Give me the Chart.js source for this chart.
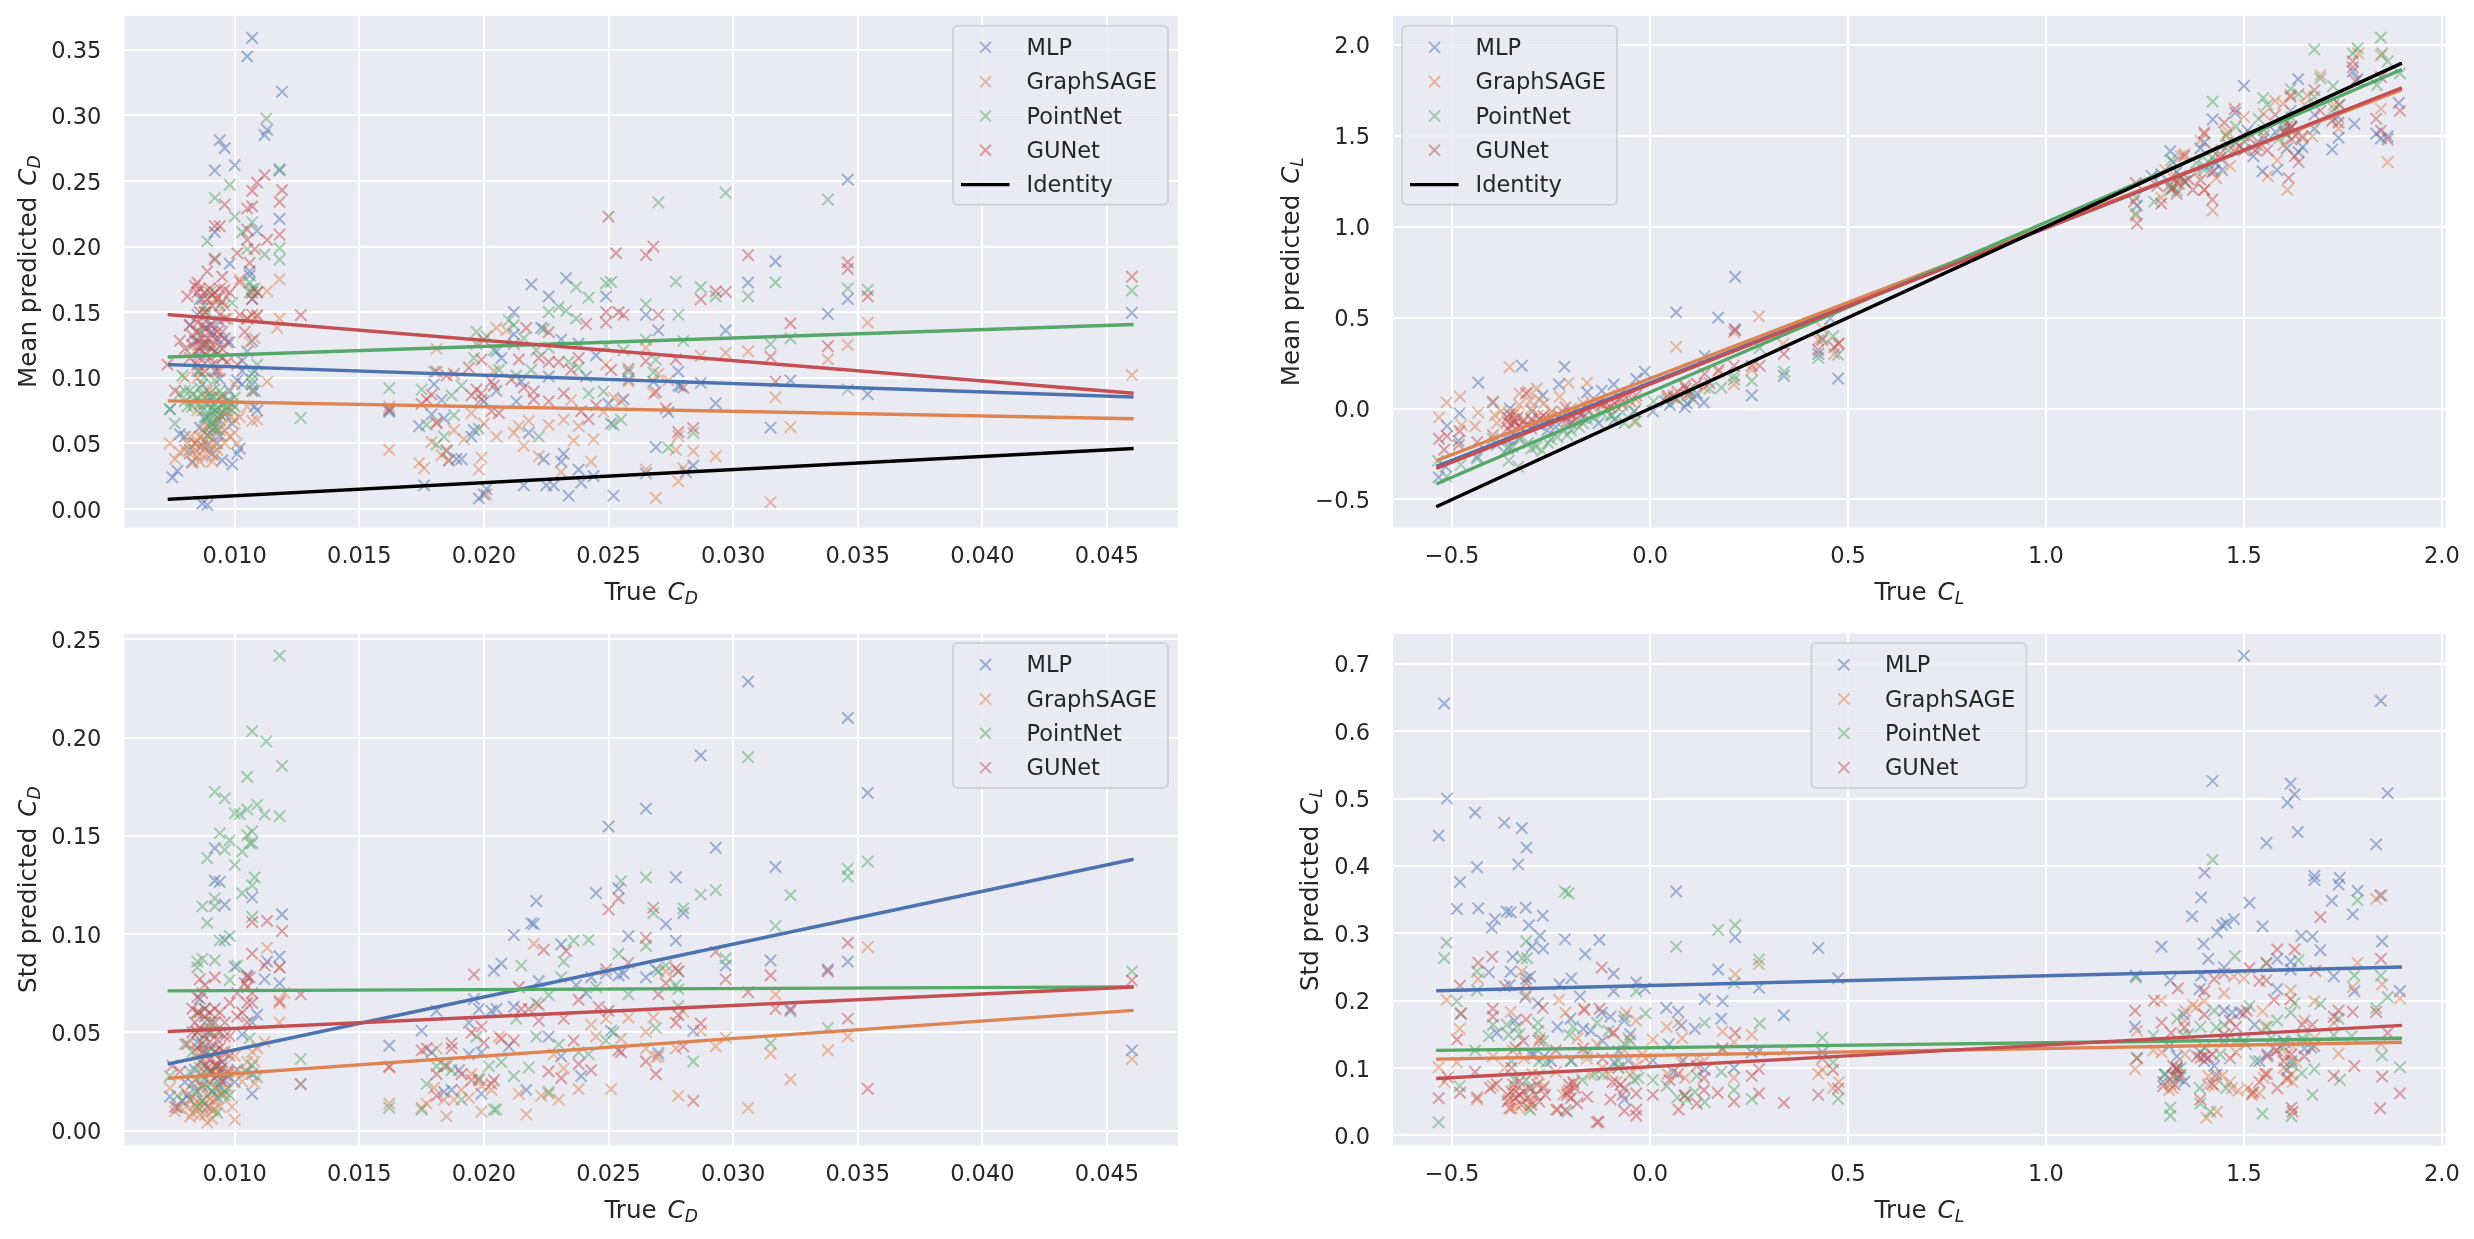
<!DOCTYPE html>
<html>
<head>
<meta charset="utf-8">
<title>Predicted vs true coefficients</title>
<script src="https://cdn.jsdelivr.net/npm/chart.js@4/dist/chart.umd.js"></script>
<style>
  body { margin: 0; background: #fff; }
  canvas { position: absolute; }
</style>
</head>
<body>
<canvas id="meanCd"></canvas>
<canvas id="meanCl"></canvas>
<canvas id="stdCd"></canvas>
<canvas id="stdCl"></canvas>
<script>
const models = ["MLP", "GraphSAGE", "PointNet", "GUNet"];

const xTicksCd = [0.010, 0.015, 0.020, 0.025, 0.030, 0.035, 0.040, 0.045];
const xTicksCl = [-0.5, 0.0, 0.5, 1.0, 1.5, 2.0];
const yTicksMeanCd = [0.00, 0.05, 0.10, 0.15, 0.20, 0.25, 0.30, 0.35];
const yTicksMeanCl = [-0.5, 0.0, 0.5, 1.0, 1.5, 2.0];
const yTicksStdCd = [0.00, 0.05, 0.10, 0.15, 0.20, 0.25];
const yTicksStdCl = [0.0, 0.1, 0.2, 0.3, 0.4, 0.5, 0.6, 0.7];

// regression line ends, [x, y]
const cdEnds = [0.00738, 0.0460];
const clEnds = [-0.536, 1.895];
const fitMeanCd = [[0.110, 0.0853], [0.0823, 0.0687], [0.1158, 0.1405], [0.148, 0.0883]];
const fitMeanCl = [[-0.315, 1.755], [-0.283, 1.75], [-0.411, 1.86], [-0.326, 1.76]];
const fitStdCd = [[0.034, 0.1379], [0.0267, 0.0611], [0.0711, 0.0731], [0.0504, 0.073]];
const fitStdCl = [[0.2146, 0.2497], [0.113, 0.138], [0.126, 0.144], [0.0844, 0.163]];

const mlpMeanCd = [[.0107,.359],[.0105,.345],[.0119,.318],[.0112,.285],[.0113,.289],[.0094,.281],[.0096,.275],[.01,.262],[.0092,.258],[.0118,.258],[.0118,.221],[.0109,.212],[.0092,.211],[.0098,.187],[.0106,.181],[.0106,.178],[.0107,.16],[.0086,.16],[.0085,.148],[.0082,.14],[.0088,.138],[.0091,.135],[.0093,.13],[.0098,.127],[.0107,.128],[.0103,.113],[.0092,.105],[.0094,.099],[.0101,.098],[.0103,.095],[.0107,.095],[.0108,.105],[.0108,.09],[.0108,.078],[.0109,.075],[.0096,.072],[.0092,.062],[.009,.058],[.0094,.056],[.0078,.057],[.0087,.048],[.0102,.046],[.0101,.042],[.0099,.034],[.0095,.037],[.0083,.036],[.0077,.029],[.0075,.024],[.0087,.004],[.0089,.003],[.0074,.076],[.0089,.048],
[.0084,.128],[.0086,.118],[.0088,.125],[.009,.14],[.0092,.12],[.0094,.143],[.0096,.13],[.0098,.09],[.0085,.105],[.0087,.095],[.009,.085],[.0092,.075],[.0094,.068],[.0088,.07],[.0086,.062],[.0084,.05],[.0082,.045],[.008,.055],[.0091,.042],[.0093,.05],[.0097,.082],[.0099,.065],[.0105,.12],[.0103,.105],
[.0162,.075],[.0162,.074],[.0174,.063],[.0176,.018],[.0179,.072],[.018,.095],[.0183,.083],[.0184,.069],[.0185,.044],[.0186,.037],[.0189,.038],[.0191,.038],[.0195,.055],[.0196,.06],[.0198,.008],[.02,.011],[.0201,.015],[.02,.082],[.0205,.09],[.0207,.115],[.0205,.12],[.0212,.15],[.0212,.133],[.0213,.082],[.0219,.171],[.0216,.018],[.0218,.058],[.0223,.138],[.0224,.038],[.0225,.018],[.0228,.018],[.0226,.162],[.0226,.101],[.0215,.097],[.0233,.176],[.0231,.129],[.0232,.042],[.0231,.036],[.0234,.01],[.0238,.126],[.0238,.03],[.0239,.02],[.0241,.101],[.0245,.117],[.0244,.025],[.0249,.162],[.025,.08],[.0251,.065],[.0252,.01],
[.0256,.0835],[.0265,.148],[.027,.136],[.0268,.097],[.0258,.0986],[.0278,.1046],[.0278,.094],[.0279,.0935],[.0287,.096],[.0274,.0735],[.0269,.047],[.0284,.033],[.0281,.028],[.0265,.027],[.0293,.0805],[.0297,.136],[.0306,.1725],[.0317,.1887],[.0315,.062],[.0323,.098],[.0338,.1486],[.0346,.251],[.0346,.16],[.0354,.0874],[.046,.1495]];
const sageMeanCd = [[.0074,.05],[.0076,.038],[.0078,.043],[.008,.045],[.0081,.05],[.0082,.042],[.0083,.035],[.0084,.045],[.0085,.052],[.0086,.055],[.0086,.047],[.0087,.04],[.0088,.052],[.0088,.058],[.0089,.063],[.009,.043],[.0091,.036],[.0092,.05],[.0093,.068],[.0094,.072],[.0096,.06],[.0098,.055],[.01,.058],[.0101,.05],[.0102,.07],[.0105,.078],[.0107,.067],[.0109,.068],[.0113,.097],[.0107,.09],[.0094,.105],[.0085,.1],[.008,.1],[.0084,.12],[.0088,.15],[.0092,.16],[.0097,.145],[.0102,.175],[.0106,.127],[.0105,.145],[.0108,.13],[.0109,.148],[.0113,.166],[.0118,.175],[.0118,.145],[.0117,.138],[.0096,.155],[.0091,.125],[.0086,.105],[.0089,.09],[.0095,.085],[.01,.095],
[.0082,.055],[.0084,.05],[.0085,.04],[.0086,.036],[.0087,.06],[.0088,.046],[.0089,.05],[.009,.055],[.0091,.06],[.0092,.04],[.0093,.045],[.0094,.06],[.0095,.07],[.0096,.05],[.0097,.075],[.0098,.07],[.0099,.08],[.01,.068],[.0085,.075],[.0088,.085],[.0091,.09],[.0094,.085],
[.0162,.045],[.0162,.078],[.0174,.035],[.0176,.031],[.0179,.051],[.0181,.066],[.0183,.041],[.0185,.045],[.0186,.037],[.0188,.06],[.0192,.053],[.0195,.073],[.0198,.03],[.02,.065],[.0199,.039],[.0201,.011],[.0205,.055],[.0204,.105],[.0205,.138],[.0209,.136],[.0181,.122],[.0212,.058],[.0214,.063],[.0216,.048],[.0218,.067],[.0222,.04],[.0226,.064],[.0232,.068],[.0231,.028],[.0238,.063],[.0236,.052],[.0244,.053],[.0243,.036],[.0248,.074],[.0249,.11],[.0235,.083],[.0252,.085],[.0255,.082],
[.0265,.1227],[.0265,.03],[.0258,.097],[.0268,.088],[.027,.103],[.0274,.098],[.0269,.0084],[.0277,.045],[.0278,.0555],[.0278,.021],[.028,.031],[.0284,.044],[.0287,.1167],[.0293,.04],[.0297,.119],[.0306,.12],[.0315,.005],[.0317,.085],[.0323,.0624],[.0338,.114],[.0346,.125],[.0354,.142],[.046,.102]];
const pointMeanCd = [[.01127,.2975],[.0118,.259],[.0098,.247],[.0092,.237],[.01,.2228],[.0089,.204],[.0107,.2185],[.0103,.211],[.0105,.198],[.0112,.194],[.0118,.1987],[.0118,.19],[.0092,.191],[.0106,.1725],[.0107,.168],[.0109,.165],[.0099,.157],[.0088,.154],[.0109,.11],[.0107,.103],[.0107,.0985],[.0079,.1016],[.01265,.0693],[.0074,.076],[.0076,.065],
[.0078,.088],[.008,.082],[.0082,.09],[.0083,.078],[.0085,.085],[.0086,.092],[.0087,.075],[.0088,.068],[.0089,.08],[.009,.088],[.0091,.077],[.0092,.072],[.0093,.083],[.0094,.09],[.0095,.08],[.0096,.075],[.0098,.082],[.01,.078],[.009,.063],[.0089,.056],[.0092,.066],[.0088,.125],[.0086,.135],[.0095,.115],[.0107,.09],[.0092,.098],
[.008,.09],[.0081,.078],[.0083,.087],[.0084,.082],[.0086,.08],[.0087,.087],[.0088,.08],[.009,.072],[.0091,.085],[.0092,.08],[.0093,.076],[.0094,.072],[.0095,.087],[.0097,.078],[.0099,.075],[.01,.085],[.0089,.07],[.0091,.065],[.0093,.06],[.0088,.1],[.0086,.105],[.0092,.12],[.0089,.15],[.009,.165],[.0094,.155],[.0106,.165],[.0108,.168],
[.0162,.092],[.0175,.091],[.0177,.064],[.018,.1046],[.0181,.049],[.0184,.055],[.0187,.0865],[.0191,.094],[.0188,.0715],[.0197,.135],[.0196,.115],[.0197,.1257],[.0198,.061],[.0201,.1317],[.0204,.121],[.0206,.106],[.021,.1438],[.0212,.14],[.0213,.1016],[.0216,.13],[.0219,.106],[.0221,.121],[.0222,.055],[.0224,.137],[.0226,.15],[.0226,.1227],[.023,.154],[.0233,.151],[.0237,.145],[.0237,.169],[.0242,.161],[.0234,.112],[.0238,.1076],[.0242,.088],[.0248,.0895],[.0249,.172],[.0251,.173],[.0249,.124],[.0252,.064],
[.0256,.121],[.0258,.1046],[.0255,.068],[.0265,.156],[.0265,.129],[.0268,.104],[.0269,.1137],[.027,.2336],[.0274,.0467],[.0277,.1733],[.0278,.148],[.028,.128],[.0284,.058],[.0287,.169],[.0293,.162],[.0297,.241],[.0306,.162],[.0315,.1257],[.0317,.1727],[.0323,.13],[.0338,.2358],[.0346,.168],[.0346,.091],[.0354,.167],[.046,.1664]];
const gunetMeanCd = [[.0112,.2545],[.0109,.2487],[.0107,.2424],[.0105,.229],[.0107,.2306],[.0096,.232],[.0118,.234],[.0119,.243],[.0118,.209],[.0113,.205],[.0092,.2155],[.0094,.2155],[.0105,.205],[.0105,.213],[.0101,.195],[.0108,.198],[.0106,.1875],[.0092,.19],[.0095,.177],[.0102,.173],[.0089,.181],[.0085,.1725],[.0081,.162],
[.0085,.165],[.0087,.16],[.009,.168],[.0092,.165],[.0094,.168],[.0096,.167],[.0098,.165],[.0088,.15],[.0091,.155],[.0094,.148],[.0096,.145],[.0105,.145],[.0107,.148],[.0109,.147],[.0102,.148],[.0107,.165],[.0109,.165],[.0085,.135],[.0087,.13],[.0089,.125],[.0091,.132],[.0093,.128],[.0095,.122],[.0097,.127],[.0083,.125],[.0086,.122],[.0078,.128],[.008,.122],[.0082,.14],[.0082,.115],[.0085,.11],[.0088,.105],[.0091,.11],[.0093,.105],[.0097,.112],[.0101,.11],[.0073,.11],[.0076,.09],[.01265,.1477],
[.0084,.17],[.0086,.168],[.0088,.165],[.0089,.16],[.0091,.163],[.0093,.16],[.0095,.158],[.0086,.15],[.0085,.142],[.0087,.14],[.0089,.138],[.0091,.14],[.0093,.135],[.0095,.135],[.0083,.132],[.0085,.128],[.0087,.125],[.0089,.13],[.0091,.122],[.0093,.118],[.0095,.115],[.0086,.115],[.0088,.118],[.009,.115],[.0107,.16],[.0104,.135],
[.0162,.076],[.0175,.08],[.0177,.0835],[.0179,.087],[.0181,.1046],[.0185,.1016],[.0181,.0654],[.0188,.103],[.0194,.1076],[.0195,.0865],[.0197,.091],[.0199,.088],[.0199,.0835],[.02,.1287],[.0199,.1137],[.0203,.097],[.0204,.094],[.0206,.073],[.0203,.0745],[.0212,.1257],[.0214,.114],[.0211,.0986],[.0216,.0925],[.0217,.138],[.022,.0895],[.022,.0835],[.0222,.115],[.0226,.112],[.0226,.082],[.0226,.1348],[.023,.112],[.0232,.088],[.0235,.106],[.0238,.115],[.0239,.0745],[.0241,.1408],[.0242,.0684],[.0245,.079],[.0249,.15],[.0249,.142],[.0251,.106],[.025,.2228],[.0253,.195],[.0254,.15],
[.0265,.1935],[.0268,.2],[.0256,.148],[.027,.148],[.0258,.1067],[.0265,.1127],[.0269,.089],[.0273,.0766],[.0277,.114],[.028,.0925],[.0278,.0585],[.0284,.0615],[.0287,.1598],[.0293,.1658],[.0297,.1655],[.0306,.1935],[.0315,.1158],[.0317,.097],[.0323,.1414],[.0338,.124],[.0346,.188],[.0346,.183],[.0354,.162],[.046,.177]];

const mlpMeanCl = [[.215,.724],[.066,.528],[.172,.5],[.214,.437],[-.324,.235],[-.216,.23],[-.434,.143],[-.23,.133],[-.397,.033],[-.271,.072],[-.159,.089],[-.122,.098],[-.092,.133],[-.035,.163],[-.013,.202],[.138,.289],[.136,.033],[.118,.083],[.093,.028],[.088,.007],[.007,-.015],[.039,.039],[.257,.072],[.338,.18],[.425,.3],[.475,.165],[.455,.495],[-.481,-.026],[-.513,-.096],[-.484,-.178],[-.534,-.378],[-.354,0],[-.298,-.015],[-.238,-.102],[-.357,-.211],[-.437,-.265],[-.516,-.32],[-.387,-.2],[-.13,-.08],[-.09,-.06],[-.04,-.015],
[-.28,-.09],[-.26,-.12],[-.2,-.08],[-.17,-.05],[-.33,-.16],[-.36,-.17],[.05,.02],[.11,.05],
[1.5,1.774],[1.637,1.811],[1.421,1.589],[1.314,1.415],[1.891,1.68],[1.779,1.565],[1.723,1.424],[1.739,1.489],[1.834,1.511],[1.863,1.496],[1.846,1.485],[1.775,1.854],[1.547,1.304],[1.584,1.311],[1.524,1.387],[1.648,1.437],[1.638,1.409],[1.608,1.43],[1.478,1.626],[1.39,1.43],[1.4,1.463],[1.445,1.311],[1.425,1.307],[1.23,1.115],[1.267,1.278],[1.291,1.289],[1.321,1.354],[1.678,1.539],[1.678,1.615],[1.604,1.528],[1.618,1.637],[1.737,1.604],[1.787,1.811],[1.509,1.528],
[1.33,1.3],[1.35,1.25],[1.4,1.33],[1.43,1.35],[1.48,1.46],[1.55,1.48],[1.58,1.52],[1.62,1.55],[1.53,1.45]];
const sageMeanCl = [[.275,.507],[.066,.339],[-.355,.228],[-.33,.083],[-.308,.093],[-.286,.111],[-.48,.065],[-.514,.033],[-.533,-.048],[-.434,-.022],[-.397,.039],[-.392,-.037],[-.442,-.098],[-.476,-.091],[-.303,.039],[-.268,.028],[-.228,.065],[-.206,.141],[-.159,.141],[-.204,-.037],[-.169,.028],[-.387,-.08],[-.347,-.037],[-.318,-.059],[-.283,-.037],[-.258,-.059],[-.248,-.015],[-.04,-.07],[-.11,.028],[-.08,.072],[-.035,.05],[.044,.061],[.093,.072],[.138,.115],[.173,.202],[.212,.133],[.257,.213],[.336,.354],[.425,.376],[.435,.441],[.465,.3],[.475,.354],[.212,.42],[.059,.072],[-.377,-.015],
[-.34,-.02],[-.3,.0],[-.28,.05],[-.25,-.02],[-.33,.02],[-.2,.0],[-.15,.04],[-.12,.02],
[1.863,1.354],[1.61,1.202],[1.56,1.278],[1.421,1.089],[1.846,1.648],[1.693,1.833],[1.846,1.941],[1.789,1.952],[1.579,1.691],[1.599,1.676],[1.618,1.724],[1.5,1.604],[1.653,1.67],[1.673,1.496],[1.739,1.539],[1.584,1.365],[1.648,1.485],[1.4,1.507],[1.39,1.474],[1.455,1.507],[1.465,1.333],[1.43,1.267],[1.4,1.202],[1.341,1.387],[1.301,1.311],[1.291,1.159],[1.227,1.061],[1.331,1.246],[1.48,1.43],[1.539,1.441],[1.727,1.67],
[1.33,1.27],[1.35,1.4],[1.38,1.3],[1.42,1.42],[1.5,1.5],[1.6,1.45],[1.55,1.62],[1.66,1.72],[1.46,1.52]];
const pointMeanCl = [[.257,.152],[.339,.202],[.425,.278],[.435,.387],[.462,.398],[.475,.296],[.277,.333],[.18,.115],[.212,.18],[.069,.05],[.044,.05],[.009,.039],[-.035,-.07],[-.065,-.08],[-.095,-.037],[-.12,-.026],[-.179,-.102],[-.209,-.146],[-.234,-.157],[-.258,-.189],[-.273,-.233],[-.288,-.211],[-.308,-.189],[-.333,-.32],[-.357,-.287],[-.347,-.211],[-.397,-.167],[-.437,-.276],[-.478,-.309],[-.514,-.374],[-.536,-.287],[-.159,-.059],[-.04,-.015],[.098,.104],[.212,.159],
[-.25,-.17],[-.22,-.11],[-.2,-.12],[-.17,-.08],[-.14,-.05],[-.1,-.04],[-.07,-.02],[-.33,-.17],[-.36,-.22],[-.3,-.22],[.1,.07],[.15,.11],
[1.846,2.039],[1.787,1.98],[1.775,1.952],[1.678,1.974],[1.849,1.952],[1.863,1.909],[1.894,1.843],[1.836,1.778],[1.693,1.815],[1.725,1.772],[1.618,1.757],[1.638,1.728],[1.549,1.707],[1.559,1.67],[1.421,1.687],[1.537,1.593],[1.48,1.55],[1.455,1.496],[1.678,1.713],[1.74,1.67],[1.727,1.648],[1.316,1.365],[1.351,1.246],[1.331,1.198],[1.316,1.202],[1.273,1.137],[1.227,1.072],[1.227,1.159],[1.4,1.311],[1.41,1.354],[1.589,1.485],[1.609,1.507],
[1.32,1.22],[1.34,1.28],[1.38,1.35],[1.42,1.38],[1.46,1.42],[1.5,1.47],[1.6,1.55],[1.62,1.6],[1.55,1.53]];
const gunetMeanCl = [[-.533,-.167],[-.513,-.152],[-.483,-.2],[-.52,-.226],[-.481,-.124],[-.437,-.185],[-.36,-.05],[-.36,-.07],[-.35,-.09],[-.34,-.08],[-.33,-.1],[-.32,-.07],[-.31,-.09],[-.3,-.11],[-.29,-.08],[-.28,-.06],[-.27,-.04],[-.36,-.11],[-.35,-.13],[-.397,-.146],[-.313,.083],[-.214,.007],[-.209,-.048],[-.189,-.059],[-.169,-.026],[-.144,.007],[-.12,.028],[-.1,.007],[-.075,.05],[-.055,.072],[-.035,.072],[.044,.072],[.069,.093],[.088,.126],[.118,.137],[.138,.191],[.173,.213],[.212,.235],[.215,.43],[.257,.235],[.277,.235],[.338,.3],[.425,.322],[.435,.376],[.465,.337],[.477,.359],
[-.355,-.03],[-.345,-.06],[-.335,-.05],[-.325,-.11],[-.3,-.06],[-.26,-.08],[-.25,-.05],[-.23,-.04],[-.22,-.02],[-.21,-.07],[-.2,-.03],[-.18,-.02],[-.16,.0],[-.13,.03],[-.11,.0],[-.09,.03],[-.07,.02],[-.05,.04],[.06,.06],[.09,.11],[.1,.09],[.15,.14],
[1.23,1.017],[1.222,1.137],[1.227,1.239],[1.291,1.126],[1.281,1.224],[1.311,1.224],[1.336,1.235],[1.371,1.202],[1.4,1.202],[1.39,1.257],[1.42,1.148],[1.4,1.517],[1.349,1.387],[1.45,1.572],[1.477,1.646],[1.559,1.419],[1.529,1.419],[1.579,1.615],[1.609,1.55],[1.618,1.539],[1.613,1.267],[1.638,1.354],[1.628,1.387],[1.648,1.496],[1.678,1.75],[1.618,1.713],[1.693,1.637],[1.723,1.583],[1.742,1.67],[1.739,1.572],[1.775,1.909],[1.775,1.876],[1.782,1.8],[1.834,1.593],[1.846,1.528],[1.863,1.48],[1.894,1.637],[1.846,1.822],[1.44,1.376],[1.49,1.441],
[1.32,1.21],[1.34,1.27],[1.33,1.18],[1.36,1.26],[1.42,1.3],[1.44,1.4],[1.46,1.45],[1.5,1.42],[1.52,1.5],[1.55,1.5],[1.6,1.52],[1.62,1.55],[1.63,1.5],[1.62,1.48]];

const mlpStdCd = [[.0092,.1437],[.0092,.1272],[.0094,.1266],[.0096,.115],[.0107,.1186],[.0119,.11],[.0096,.097],[.01,.0834],[.0118,.0886],[.0113,.086],[.0105,.079],[.0112,.077],[.0118,.075],[.0109,.059],[.0103,.049],[.0107,.055],[.01265,.0237],[.0074,.0173],[.0077,.0117],[.008,.0247],[.0082,.0157],[.0084,.031],[.0087,.0227],[.0088,.033],[.0092,.0267],[.0093,.0167],[.0096,.0257],[.01,.0247],[.0107,.0187],[.0107,.0287],[.0101,.031],[.0086,.067],
[.0085,.045],[.0087,.04],[.0089,.05],[.0091,.042],[.0093,.033],[.0095,.035],[.0085,.02],[.0087,.015],[.0089,.012],[.0091,.02],[.0094,.022],[.0097,.028],[.0083,.024],[.0081,.018],[.0079,.015],[.0088,.026],[.009,.03],
[.0162,.0432],[.0175,.0508],[.0179,.0398],[.0181,.0609],[.0184,.0197],[.0187,.0207],[.019,.0307],[.0194,.0549],[.0196,.0669],[.0198,.0619],[.0194,.0388],[.0199,.0398],[.0199,.0187],[.0204,.0814],[.0207,.085],[.0203,.0609],[.0205,.0619],[.0212,.0995],[.021,.0428],[.0212,.0629],[.0219,.1055],[.022,.1051],[.0221,.1168],[.0217,.0207],[.0222,.076],[.0226,.0478],[.0231,.0947],[.0231,.0378],[.0239,.0277],[.0237,.074],[.0241,.07],[.0245,.1208],[.0243,.078],[.025,.1547],[.0249,.08],[.0251,.0508],[.0254,.1232],[.0254,.079],
[.0256,.08],[.0258,.099],[.0265,.1638],[.0265,.078],[.0269,.082],[.027,.0394],[.0273,.1051],[.0277,.0967],[.0277,.1288],[.0278,.081],[.028,.1107],[.0284,.0508],[.0287,.1909],[.0293,.1439],[.0297,.084],[.0306,.2285],[.0315,.0866],[.0317,.1342],[.0323,.0609],[.0338,.082],[.0346,.21],[.0346,.086],[.0354,.1718],[.046,.0408]];
const sageStdCd = [[.0074,.0217],[.0076,.0097],[.0082,.007],[.0078,.0115],[.008,.02],[.0083,.017],[.0084,.013],[.0085,.01],[.0086,.025],[.0087,.022],[.0088,.008],[.0089,.018],[.0089,.004],[.009,.012],[.0091,.01],[.0092,.016],[.0093,.03],[.0094,.012],[.0096,.028],[.0098,.03],[.0099,.012],[.01,.0055],[.01,.03],[.0103,.025],[.0105,.035],[.0107,.04],[.0109,.042],[.0112,.045],[.0118,.055],[.0113,.093],[.012,.07],[.0118,.083],[.0118,.065],[.0108,.035],[.0085,.04],[.009,.038],[.0095,.04],[.01,.038],[.0104,.03],[.0108,.024],[.01265,.0235],
[.0081,.013],[.0083,.009],[.0085,.015],[.0086,.008],[.0087,.012],[.0088,.014],[.009,.016],[.0091,.006],[.0092,.011],[.0094,.02],[.0096,.018],[.0097,.022],[.0084,.026],[.0086,.032],[.0088,.03],[.009,.025],[.0092,.022],
[.0162,.0137],[.0162,.0324],[.0175,.0117],[.0177,.0137],[.0181,.0418],[.018,.0217],[.0185,.0072],[.0184,.0157],[.0188,.0157],[.0191,.0207],[.0194,.0167],[.0195,.0287],[.0199,.0096],[.0199,.0227],[.0203,.0207],[.0206,.0478],[.0214,.0187],[.0217,.0082],[.022,.095],[.0223,.0177],[.0226,.0187],[.023,.0157],[.0228,.0388],[.0232,.0317],[.0238,.0211],[.0243,.0539],[.0245,.0478],[.0251,.0211],[.0249,.0569],
[.0255,.0468],[.0258,.0575],[.0265,.0502],[.0265,.0418],[.0268,.0575],[.0269,.0372],[.027,.0378],[.0273,.081],[.0277,.0418],[.0278,.081],[.0278,.0177],[.028,.0605],[.0287,.0508],[.0293,.0428],[.0297,.0472],[.0306,.0115],[.0315,.0392],[.0317,.0693],[.0323,.0261],[.0338,.0408],[.0346,.0478],[.0354,.0934],[.046,.0364]];
const pointStdCd = [[.0118,.2417],[.0107,.2032],[.01127,.198],[.0105,.18],[.0119,.1855],[.0092,.1724],[.0096,.169],[.01,.1614],[.0102,.161],[.0105,.1634],[.0109,.1658],[.0112,.1608],[.0118,.16],[.0094,.1513],[.0107,.1523],[.0105,.1503],[.0106,.1463],[.0107,.1463],[.0098,.1477],[.0103,.1419],[.0096,.1429],[.0089,.1387],[.01,.1352],[.0108,.1288],[.0107,.1248],[.0103,.1208],[.0092,.1182],[.0087,.1141],[.0092,.1141],[.0107,.1087],[.0089,.1057],[.0098,.0991],[.0094,.0967],[.0087,.0874],[.0085,.086],[.0092,.0866],[.0085,.083],[.0101,.084],[.0098,.0766],
[.0074,.0277],[.0077,.0177],[.008,.044],[.0083,.04],[.0086,.035],[.0088,.055],[.009,.05],[.0092,.04],[.0094,.03],[.0093,.009],[.0096,.02],[.0098,.018],[.0085,.06],[.0088,.062],[.009,.03],[.0105,.03],[.0107,.033],[.0109,.027],[.0106,.047],[.0087,.028],[.0091,.02],[.01265,.0364],
[.0082,.03],[.0084,.02],[.0085,.05],[.0087,.045],[.0089,.04],[.0091,.03],[.0093,.025],[.0095,.018],[.0089,.022],[.0087,.015],[.0085,.012],[.0091,.055],[.0093,.05],
[.0162,.0117],[.0175,.0107],[.0177,.0237],[.0181,.0328],[.0184,.0328],[.0187,.0307],[.0191,.0157],[.0198,.0267],[.0197,.0478],[.0202,.0328],[.0204,.0107],[.0205,.0107],[.0207,.0348],[.0212,.0277],[.0213,.0569],[.0215,.084],[.0218,.0322],[.0221,.0478],[.0221,.0649],[.0226,.0689],[.0226,.0197],[.0231,.078],[.0232,.086],[.0236,.0967],[.0242,.0971],[.023,.0438],[.0238,.0398],[.0242,.0388],[.0245,.073],[.0249,.0458],[.0254,.09],[.0255,.127],[.0252,.05],
[.0258,.0693],[.0265,.1288],[.0265,.094],[.0268,.1107],[.0269,.0522],[.027,.081],[.0273,.084],[.0277,.074],[.0278,.0633],[.0278,.072],[.028,.1131],[.0284,.0352],[.0287,.12],[.0293,.1224],[.0297,.0876],[.0306,.19],[.0315,.0444],[.0317,.1041],[.0323,.1198],[.0338,.0522],[.0346,.1332],[.0346,.1292],[.0354,.1369],[.046,.081]];
const gunetStdCd = [[.0107,.1061],[.0113,.1067],[.0119,.1015],[.0107,.09],[.0118,.083],[.0112,.084],[.0105,.078],[.01265,.0693],[.0118,.0659],
[.0086,.077],[.0088,.074],[.0092,.078],[.0085,.068],[.0087,.07],[.0083,.062],[.0085,.06],[.0088,.058],[.009,.06],[.0092,.062],[.0094,.06],[.0098,.065],[.0101,.07],[.0105,.073],[.0107,.07],[.0105,.065],[.0103,.06],[.0101,.058],[.0083,.05],[.0086,.052],[.0088,.048],[.0091,.05],[.0093,.046],[.0096,.055],[.0098,.048],[.0081,.044],[.0085,.042],[.0088,.04],[.009,.036],[.0092,.033],[.0094,.036],[.0096,.04],[.0098,.038],[.0093,.028],[.0095,.025],[.0075,.033],[.0076,.012],[.0078,.03],[.0107,.065],[.0105,.055],
[.0084,.055],[.0086,.06],[.0088,.062],[.009,.055],[.0092,.055],[.0094,.05],[.0096,.048],[.0085,.05],[.0087,.044],[.009,.045],[.0092,.04],[.0094,.042],[.0087,.036],[.0089,.032],[.0091,.03],[.0093,.033],[.0095,.032],[.0097,.03],[.0104,.075],[.0106,.078],
[.0162,.0324],[.0175,.0408],[.0177,.0418],[.0181,.0287],[.0181,.0177],[.0185,.0328],[.0187,.0444],[.0187,.0418],[.0191,.0287],[.0195,.0257],[.0196,.0794],[.0195,.0498],[.0199,.0529],[.02,.0448],[.0198,.0257],[.0203,.0237],[.0204,.0257],[.0207,.0468],[.0212,.0458],[.0214,.073],[.0215,.0619],[.0218,.0619],[.0222,.0559],[.0222,.0639],[.0224,.092],[.0226,.0301],[.0231,.0267],[.0232,.0569],[.0233,.0914],[.0236,.0458],[.0238,.0665],[.0238,.0338],[.0243,.0307],[.0246,.0629],[.025,.1125],[.0249,.082],[.025,.0609],[.0254,.1182],[.0254,.0408],
[.0258,.0854],[.0255,.0398],[.0265,.0981],[.0265,.0352],[.0268,.1135],[.0269,.0287],[.027,.0693],[.0273,.075],[.0277,.0826],[.0277,.0549],[.0278,.0589],[.028,.0428],[.0284,.0151],[.0287,.0545],[.0293,.091],[.0297,.077],[.0306,.0705],[.0315,.079],[.0317,.0619],[.0323,.0619],[.0338,.081],[.0346,.0955],[.0346,.0569],[.0354,.0213],[.046,.0764]];

const mlpStdCl = [[-.52,.641],[-.513,.5],[-.534,.445],[-.442,.479],[-.368,.464],[-.324,.456],[-.312,.427],[-.333,.402],[-.437,.398],[-.48,.376],[-.488,.336],[-.434,.337],[-.392,.321],[-.4,.308],[-.362,.332],[-.352,.331],[-.314,.338],[-.271,.326],[-.306,.312],[-.278,.296],[-.298,.28],[-.27,.277],[-.215,.291],[-.164,.269],[-.128,.29],[-.347,.265],[-.352,.243],[-.407,.242],[-.303,.236],[-.313,.232],[-.229,.224],[-.199,.233],[-.092,.24],[-.354,.223],[-.315,.205],[-.283,.196],[-.177,.206],[-.092,.214],[-.035,.227],[-.013,.218],[.066,.362],[.215,.294],[.172,.246],[.041,.189],[.071,.183],[.138,.202],[.183,.199],[.18,.173],[.275,.219],[.338,.178],[.425,.278],[.475,.233],[-.387,.152],[-.342,.17],[-.234,.161],[-.201,.173],[-.169,.158],[-.122,.182],[-.1,.176],[-.065,.17],[.079,.163],[.113,.158],[.047,.135],[.083,.111],[.059,.094],[.212,.1],[.138,.097],[.257,.123],[.277,.126],[.435,.123],[-.065,.053],[-.293,.12],[-.268,.117],[-.199,.111],[-.09,.108],[-.055,.111],[.007,.111],
[-.3,.12],[-.25,.11],[-.15,.155],[-.12,.14],[-.08,.125],[-.05,.15],
[1.5,.712],[1.846,.645],[1.421,.526],[1.618,.522],[1.628,.506],[1.61,.494],[1.863,.508],[1.636,.45],[1.557,.434],[1.834,.432],[1.401,.39],[1.678,.385],[1.678,.379],[1.742,.382],[1.739,.372],[1.787,.363],[1.844,.356],[1.392,.353],[1.514,.345],[1.722,.348],[1.369,.325],[1.775,.328],[1.475,.321],[1.455,.315],[1.445,.312],[1.432,.301],[1.547,.31],[1.645,.296],[1.673,.295],[1.292,.28],[1.398,.284],[1.849,.288],[1.693,.275],[1.41,.262],[1.584,.262],[1.618,.258],[1.45,.249],[1.618,.246],[1.227,.237],[1.392,.237],[1.727,.236],[1.314,.23],[1.388,.217],[1.584,.217],[1.779,.214],[1.894,.214],[1.225,.161],[1.348,.179],[1.45,.185],[1.47,.182],[1.49,.182],[1.527,.164],[1.653,.129],[1.604,.138],[1.331,.117],[1.311,.132],[1.39,.123],[1.425,.103],[1.539,.11],[1.559,.12],[1.609,.097],[1.336,.085],[1.296,.079],
[1.3,.09],[1.33,.1],[1.4,.11],[1.43,.09],[1.45,.14],[1.6,.14],[1.62,.11],[1.67,.13],[1.35,.08]];
const sageStdCl = [[-.514,.201],[-.324,.243],[-.434,.232],[-.352,.183],[-.313,.208],[-.23,.201],[-.214,.182],[-.481,.158],[-.167,.188],[-.06,.182],[-.035,.17],[.042,.161],[.071,.167],[.081,.144],[.007,.142],[.183,.154],[.215,.239],[.275,.254],[.257,.149],[.338,.126],[.425,.091],[.435,.097],[.462,.07],[.477,.079],[-.534,.101],[-.488,.108],[-.519,.079],[-.437,.053],[-.397,.117],[-.397,.073],[-.367,.1],[-.347,.126],[-.337,.044],[-.357,.053],[-.308,.041],[-.318,.114],[-.298,.091],[-.268,.073],[-.278,.144],[-.238,.038],[-.238,.094],[-.209,.064],[-.193,.076],[-.183,.144],[-.159,.114],[-.134,.135],[-.105,.091],[-.095,.152],[-.085,.079],[-.065,.126],[-.055,.144],[-.035,.103],[-.011,.114],[.044,.091],[.079,.108],[.088,.085],[.118,.114],[.183,.126],[.212,.085],[.212,.138],[.138,.111],
[-.35,.04],[-.34,.065],[-.33,.06],[-.3,.05],[-.28,.09],[-.22,.06],[-.15,.09],[-.12,.1],[-.08,.1],[-.05,.09],[-.02,.12],
[1.834,.351],[1.848,.356],[1.775,.22],[1.849,.224],[1.894,.203],[1.618,.215],[1.45,.211],[1.475,.236],[1.5,.233],[1.291,.2],[1.371,.193],[1.4,.199],[1.351,.185],[1.547,.184],[1.678,.199],[1.23,.155],[1.271,.126],[1.225,.098],[1.311,.067],[1.314,.076],[1.405,.026],[1.432,.035],[1.41,.088],[1.425,.073],[1.445,.088],[1.465,.079],[1.485,.066],[1.509,.07],[1.519,.062],[1.539,.062],[1.559,.091],[1.554,.161],[1.609,.082],[1.623,.079],[1.609,.12],[1.633,.108],[1.653,.17],[1.678,.144],[1.739,.121],[1.727,.167],[1.846,.135],[1.787,.256],[1.618,.135],[1.48,.123],[1.351,.12],[1.292,.123],
[1.32,.07],[1.33,.09],[1.35,.17],[1.38,.19],[1.41,.075],[1.43,.085],[1.47,.07],[1.6,.1],[1.62,.09],[1.52,.06],[1.55,.085]];
const pointStdCl = [[-.534,.019],[-.514,.286],[-.52,.263],[-.437,.243],[-.437,.215],[-.488,.199],[-.478,.18],[-.313,.288],[-.323,.263],[-.311,.263],[-.215,.362],[-.206,.359],[.066,.28],[.172,.305],[.215,.312],[.275,.261],[.212,.226],[-.035,.214],[-.011,.181],[-.065,.176],[-.134,.167],[-.194,.161],[-.283,.167],[-.362,.164],[-.337,.161],[-.397,.164],[-.407,.147],[-.442,.126],[-.481,.073],[-.357,.149],[-.342,.082],[-.313,.082],[-.303,.038],[-.283,.155],[-.263,.108],[-.209,.035],[-.204,.149],[-.171,.082],[-.14,.091],[-.105,.155],[-.08,.1],[-.065,.135],[-.04,.082],[.007,.082],[.042,.073],[.069,.056],[.093,.053],[.113,.064],[.138,.049],[.118,.088],[.138,.167],[.18,.094],[.212,.067],[.257,.054],[.277,.166],[.435,.145],[.462,.108],[.475,.054],[.088,.059],
[-.35,.11],[-.33,.15],[-.3,.07],[-.28,.11],[-.27,.14],[-.2,.11],[-.16,.12],[-.12,.09],[-.08,.11],[-.05,.14],[-.03,.085],
[1.421,.409],[1.477,.266],[1.557,.255],[1.638,.26],[1.779,.237],[1.846,.237],[1.227,.234],[1.787,.349],[1.863,.205],[1.693,.195],[1.628,.196],[1.514,.192],[1.834,.189],[1.425,.185],[1.39,.161],[1.331,.173],[1.45,.164],[1.559,.161],[1.584,.17],[1.618,.182],[1.739,.173],[1.271,.148],[1.346,.149],[1.569,.144],[1.648,.144],[1.727,.149],[1.772,.147],[1.849,.118],[1.894,.101],[1.23,.115],[1.529,.11],[1.678,.098],[1.646,.092],[1.742,.082],[1.673,.06],[1.547,.032],[1.62,.028],[1.314,.041],[1.314,.029],[1.39,.047],[1.415,.035],[1.388,.07],[1.301,.091],[1.455,.07],[1.505,.135],[1.44,.12],
[1.33,.085],[1.34,.1],[1.36,.15],[1.4,.13],[1.43,.16],[1.48,.14],[1.6,.13],[1.62,.105],[1.65,.14],[1.5,.14]];
const gunetStdCl = [[-.134,.019],[-.13,.02],[-.399,.265],[-.434,.256],[-.48,.222],[-.367,.221],[-.122,.249],[-.313,.226],[-.397,.188],[-.397,.176],[-.478,.181],[-.271,.189],[-.313,.172],[-.488,.142],[-.442,.094],[-.511,.086],[-.534,.055],[-.48,.063],[-.437,.056],[-.404,.07],[-.388,.076],[-.36,.06],[-.36,.05],[-.35,.065],[-.34,.055],[-.33,.06],[-.32,.065],[-.31,.055],[-.3,.045],[-.29,.06],[-.28,.05],[-.27,.07],[-.355,.04],[-.33,.08],[-.35,.1],[-.34,.13],[-.32,.14],[-.28,.14],[-.234,.038],[-.214,.037],[-.204,.067],[-.194,.079],[-.184,.047],[-.159,.057],[-.166,.186],[-.127,.188],[-.092,.152],[-.095,.079],[-.1,.053],[-.065,.07],[-.065,.036],[-.035,.062],[-.035,.038],[-.035,.029],[.007,.06],[.049,.082],[.071,.091],[.072,.038],[.088,.059],[.118,.047],[.136,.085],[.136,.067],[.171,.063],[.215,.152],[.212,.05],[.257,.088],[.275,.098],[.275,.062],[.338,.048],[.425,.06],[.435,.114],[.462,.097],[.475,.069],[.118,.103],[.183,.129],[-.238,.126],[-.169,.129],[-.12,.114],
[-.345,.075],[-.325,.045],[-.305,.07],[-.285,.075],[-.265,.06],[-.21,.06],[-.2,.055],[-.19,.07],[-.075,.075],[-.07,.06],[-.205,.075],
[1.693,.324],[1.584,.276],[1.628,.276],[1.557,.256],[1.514,.248],[1.846,.262],[1.68,.244],[1.45,.24],[1.425,.232],[1.539,.229],[1.557,.23],[1.333,.218],[1.4,.214],[1.618,.202],[1.576,.201],[1.273,.2],[1.225,.185],[1.507,.185],[1.775,.183],[1.739,.185],[1.834,.183],[1.292,.167],[1.4,.179],[1.465,.17],[1.48,.161],[1.648,.164],[1.673,.164],[1.727,.176],[1.863,.152],[1.316,.152],[1.4,.117],[1.41,.115],[1.381,.117],[1.465,.114],[1.23,.114],[1.559,.117],[1.584,.126],[1.653,.117],[1.678,.132],[1.321,.103],[1.331,.097],[1.321,.088],[1.296,.073],[1.779,.103],[1.727,.088],[1.849,.087],[1.894,.062],[1.844,.04],[1.554,.091],[1.584,.07],[1.609,.085],[1.62,.041],[1.623,.035],[1.524,.064],[1.539,.079],[1.39,.053],[1.42,.076],
[1.33,.1],[1.34,.09],[1.325,.075],[1.39,.115],[1.42,.12],[1.58,.125],[1.6,.11],[1.62,.12],[1.45,.15],[1.5,.18],[1.35,.16]];

const lineColors = ["#4C72B0", "#DD8452", "#55A868", "#C44E52"];
const markColors = ["rgba(76,114,176,0.5)", "rgba(221,132,82,0.5)", "rgba(85,168,104,0.5)", "rgba(196,78,82,0.5)"];
const textColor = "#262626";
const fontName = "'DejaVu Sans'";

// draws "True C_D" style label with italic C and a subscript
function drawMathLabel(ctx, prefix, sub, x, y, rotated) {
  ctx.save();
  ctx.translate(x, y);
  if (rotated) ctx.rotate(-Math.PI / 2);
  ctx.fillStyle = textColor;
  ctx.textBaseline = "alphabetic";
  ctx.textAlign = "left";
  const mainFont = "24.6px " + fontName;
  const italFont = "italic 24.6px " + fontName;
  const subFont = "italic 17.2px " + fontName;
  ctx.font = mainFont;
  const w1 = ctx.measureText(prefix).width + 3;
  ctx.font = italFont;
  const w2 = ctx.measureText("C").width;
  ctx.font = subFont;
  const w3 = ctx.measureText(sub).width;
  let cx = -(w1 + w2 + w3) / 2;
  ctx.font = mainFont;
  ctx.fillText(prefix, cx, 0);
  cx += w1;
  ctx.font = italFont;
  ctx.fillText("C", cx, 0);
  cx += w2;
  ctx.font = subFont;
  ctx.fillText(sub, cx, 4);
  ctx.restore();
}

function drawLegend(ctx, p) {
  const hasIdentity = p.identity;
  const h = hasIdentity ? 179 : 145;
  const x = p.legendX - p.cx, y = p.legendY - p.cy;
  ctx.save();
  ctx.beginPath();
  ctx.roundRect(x, y, 215, h, 5);
  ctx.fillStyle = "rgba(234,234,242,0.8)";
  ctx.fill();
  ctx.strokeStyle = "rgba(204,204,204,0.8)";
  ctx.lineWidth = 2;
  ctx.stroke();
  ctx.font = "22.5px " + fontName;
  ctx.textAlign = "left";
  ctx.textBaseline = "alphabetic";
  models.forEach((name, i) => {
    const my = y + 21.7 + i * 34.3;
    ctx.strokeStyle = markColors[i];
    ctx.lineWidth = 2;
    ctx.beginPath();
    ctx.moveTo(x + 27, my - 5.5);
    ctx.lineTo(x + 38, my + 5.5);
    ctx.moveTo(x + 27, my + 5.5);
    ctx.lineTo(x + 38, my - 5.5);
    ctx.stroke();
    ctx.fillStyle = textColor;
    ctx.fillText(name, x + 73.5, my + 7.5);
  });
  if (hasIdentity) {
    const my = y + 21.7 + 4 * 34.3;
    ctx.strokeStyle = "#000";
    ctx.lineWidth = 3.4;
    ctx.beginPath();
    ctx.moveTo(x + 8, my);
    ctx.lineTo(x + 56.5, my);
    ctx.stroke();
    ctx.fillStyle = textColor;
    ctx.fillText("Identity", x + 73.5, my + 7.5);
  }
  ctx.restore();
}

function makePanel(p) {
  const canvas = document.getElementById(p.id);
  canvas.width = p.cw;
  canvas.height = p.ch;
  canvas.style.left = p.cx + "px";
  canvas.style.top = p.cy + "px";

  const sets = [];
  p.points.forEach((pts, i) => {
    sets.push({
      label: models[i],
      data: pts.map(d => ({ x: d[0], y: d[1] })),
      pointStyle: "crossRot",
      pointRadius: 8,
      pointBorderWidth: 2,
      pointBorderColor: markColors[i],
      pointBackgroundColor: "rgba(0,0,0,0)",
      showLine: false
    });
  });
  p.fits.forEach((f, i) => {
    sets.push({
      label: models[i] + " fit",
      data: [{ x: p.ends[0], y: f[0] }, { x: p.ends[1], y: f[1] }],
      borderColor: lineColors[i],
      borderWidth: 3.4,
      borderCapStyle: "square",
      pointRadius: 0,
      showLine: true
    });
  });
  if (p.identity) {
    sets.push({
      label: "Identity",
      data: [{ x: p.ends[0], y: p.ends[0] }, { x: p.ends[1], y: p.ends[1] }],
      borderColor: "#000",
      borderWidth: 3.4,
      borderCapStyle: "square",
      pointRadius: 0,
      showLine: true
    });
  }
  sets.forEach((s, i) => { s.order = -i; });

  const tickFont = { family: fontName, size: 22.5 };
  const fmt = (v, digits) => v.toFixed(digits).replace("-", "\u2212");

  new Chart(canvas.getContext("2d"), {
    type: "scatter",
    data: { datasets: sets },
    options: {
      responsive: false,
      animation: false,
      layout: {
        autoPadding: false,
        padding: { left: 0, bottom: 0, top: p.top - p.cy, right: p.cx + p.cw - p.right }
      },
      plugins: { legend: { display: false }, tooltip: { enabled: false } },
      scales: {
        x: {
          type: "linear",
          min: p.xMin,
          max: p.xMax,
          afterBuildTicks: s => { s.ticks = p.xTicks.map(v => ({ value: v })); },
          afterFit: s => {
            s.height = p.cy + p.ch - p.bottom;
            s.paddingLeft = 0;
            s.paddingRight = 0;
          },
          grid: { color: "#fff", lineWidth: 2, drawTicks: false },
          border: { display: false },
          ticks: {
            color: textColor, font: tickFont, padding: 16, autoSkip: false, maxRotation: 0,
            callback: v => fmt(v, p.xDigits)
          }
        },
        y: {
          type: "linear",
          min: p.yMin,
          max: p.yMax,
          afterBuildTicks: s => { s.ticks = p.yTicks.map(v => ({ value: v })); },
          afterFit: s => {
            s.width = p.left - p.cx;
            s.paddingTop = 0;
            s.paddingBottom = 0;
          },
          grid: { color: "#fff", lineWidth: 2, drawTicks: false },
          border: { display: false },
          ticks: {
            color: textColor, font: tickFont, padding: 23, autoSkip: false,
            callback: v => fmt(v, p.yDigits)
          }
        }
      }
    },
    plugins: [{
      id: "panelDeco",
      afterLayout(chart) {
        // y labels sit a little below their grid line in the reference
        const y = chart.scales.y;
        const drawLabels = y.drawLabels;
        y.drawLabels = function (area) {
          this.ctx.save();
          this.ctx.translate(0, 2.8);
          drawLabels.call(this, area);
          this.ctx.restore();
        };
      },
      beforeDraw(chart) {
        const a = chart.chartArea, ctx = chart.ctx;
        ctx.save();
        ctx.fillStyle = "#EAEAF2";
        ctx.fillRect(a.left, a.top, a.width, a.height);
        ctx.restore();
      },
      afterDraw(chart) {
        const a = chart.chartArea, ctx = chart.ctx;
        drawMathLabel(ctx, "True ", p.sub, (a.left + a.right) / 2, p.xTitleY - p.cy, false);
        drawMathLabel(ctx, p.yLabel + " ", p.sub, p.yTitleX - p.cx, (a.top + a.bottom) / 2, true);
        drawLegend(ctx, p);
      }
    }]
  });
}

makePanel({
  id: "meanCd", cx: 0, cy: 0, cw: 1237, ch: 620,
  left: 124.3, right: 1178, top: 15.8, bottom: 527.5,
  xMin: 0.00557, xMax: 0.04785, yMin: -0.0142, yMax: 0.3759,
  xTicks: xTicksCd, yTicks: yTicksMeanCd, xDigits: 3, yDigits: 2,
  sub: "D", yLabel: "Mean predicted", xTitleY: 600, yTitleX: 35.6,
  points: [mlpMeanCd, sageMeanCd, pointMeanCd, gunetMeanCd],
  fits: fitMeanCd, ends: cdEnds, identity: true, legendX: 953, legendY: 25.7
});
makePanel({
  id: "meanCl", cx: 1237, cy: 0, cw: 1237, ch: 620,
  left: 1393, right: 2445.8, top: 15.8, bottom: 527.5,
  xMin: -0.6493, xMax: 2.0099, yMin: -0.654, yMax: 2.159,
  xTicks: xTicksCl, yTicks: yTicksMeanCl, xDigits: 1, yDigits: 1,
  sub: "L", yLabel: "Mean predicted", xTitleY: 600, yTitleX: 1299.3,
  points: [mlpMeanCl, sageMeanCl, pointMeanCl, gunetMeanCl],
  fits: fitMeanCl, ends: clEnds, identity: true, legendX: 1402, legendY: 25.7
});
makePanel({
  id: "stdCd", cx: 0, cy: 620, cw: 1237, ch: 619,
  left: 124.3, right: 1178, top: 633.8, bottom: 1145.5,
  xMin: 0.00557, xMax: 0.04785, yMin: -0.0076, yMax: 0.2528,
  xTicks: xTicksCd, yTicks: yTicksStdCd, xDigits: 3, yDigits: 2,
  sub: "D", yLabel: "Std predicted", xTitleY: 1218, yTitleX: 35.6,
  points: [mlpStdCd, sageStdCd, pointStdCd, gunetStdCd],
  fits: fitStdCd, ends: cdEnds, identity: false, legendX: 953, legendY: 643
});
makePanel({
  id: "stdCl", cx: 1237, cy: 620, cw: 1237, ch: 619,
  left: 1393, right: 2445.8, top: 633.8, bottom: 1145.5,
  xMin: -0.6493, xMax: 2.0099, yMin: -0.0153, yMax: 0.7446,
  xTicks: xTicksCl, yTicks: yTicksStdCl, xDigits: 1, yDigits: 1,
  sub: "L", yLabel: "Std predicted", xTitleY: 1218, yTitleX: 1318.3,
  points: [mlpStdCl, sageStdCl, pointStdCl, gunetStdCl],
  fits: fitStdCl, ends: clEnds, identity: false, legendX: 1811.4, legendY: 643
});
</script>
</body>
</html>
